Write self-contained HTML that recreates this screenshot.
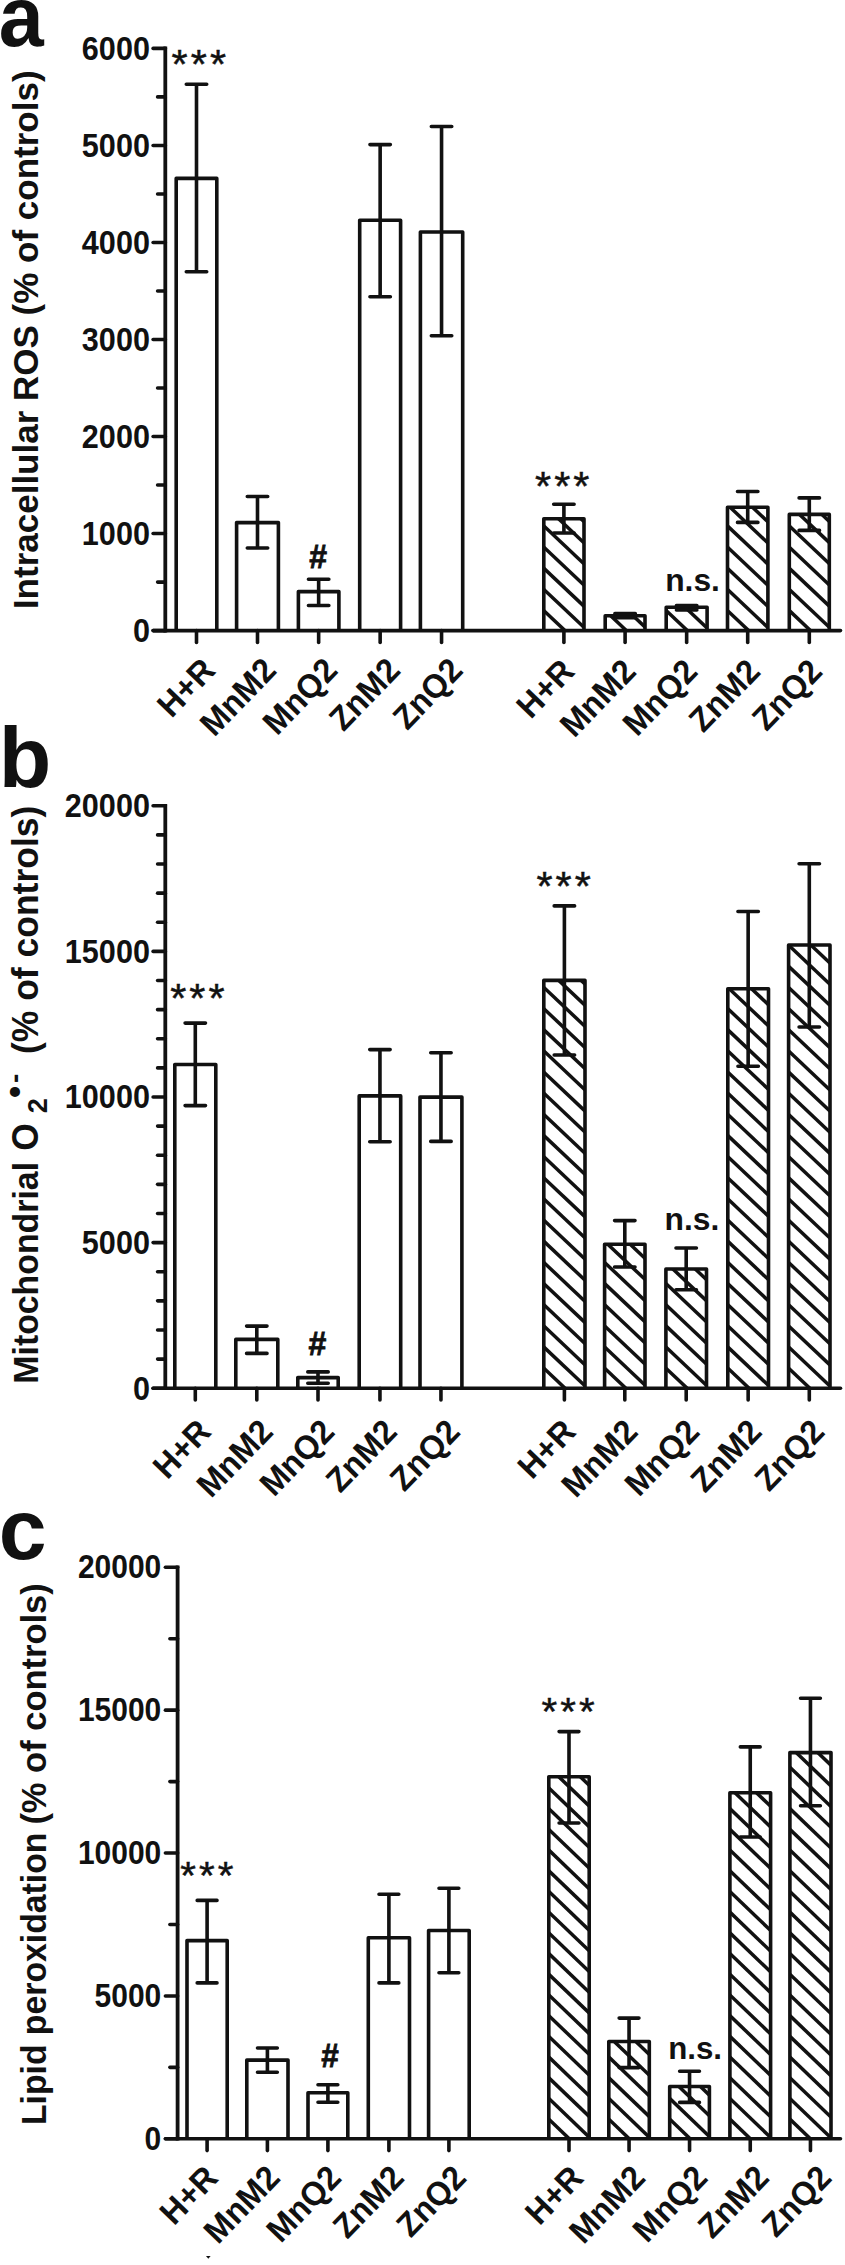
<!DOCTYPE html>
<html lang="en">
<head>
<meta charset="utf-8">
<title>Figure</title>
<style>
html,body{margin:0;padding:0;background:#fff;}
body{width:845px;height:2265px;overflow:hidden;}
svg{display:block;}
</style>
</head>
<body>
<svg width="845" height="2265" viewBox="0 0 845 2265" font-family='"Liberation Sans", Arial, Helvetica, sans-serif' fill="#111">
<rect width="845" height="2265" fill="#fff"/>
<g>
<clipPath id="c1"><rect x="543.80" y="518.80" width="40.20" height="111.80"/></clipPath>
<g clip-path="url(#c1)" stroke="#111" stroke-width="3.50">
<line x1="540.80" y1="671.18" x2="587.00" y2="714.84"/>
<line x1="540.80" y1="650.03" x2="587.00" y2="693.69"/>
<line x1="540.80" y1="628.88" x2="587.00" y2="672.54"/>
<line x1="540.80" y1="607.73" x2="587.00" y2="651.39"/>
<line x1="540.80" y1="586.58" x2="587.00" y2="630.24"/>
<line x1="540.80" y1="565.43" x2="587.00" y2="609.09"/>
<line x1="540.80" y1="544.28" x2="587.00" y2="587.94"/>
<line x1="540.80" y1="523.13" x2="587.00" y2="566.79"/>
<line x1="540.80" y1="501.98" x2="587.00" y2="545.64"/>
<line x1="540.80" y1="480.83" x2="587.00" y2="524.49"/>
</g>
<clipPath id="c2"><rect x="605.20" y="615.70" width="39.80" height="14.90"/></clipPath>
<g clip-path="url(#c2)" stroke="#111" stroke-width="3.50">
<line x1="602.20" y1="671.18" x2="648.00" y2="714.46"/>
<line x1="602.20" y1="650.03" x2="648.00" y2="693.31"/>
<line x1="602.20" y1="628.88" x2="648.00" y2="672.16"/>
<line x1="602.20" y1="607.73" x2="648.00" y2="651.01"/>
<line x1="602.20" y1="586.58" x2="648.00" y2="629.86"/>
</g>
<clipPath id="c3"><rect x="666.20" y="607.20" width="40.90" height="23.40"/></clipPath>
<g clip-path="url(#c3)" stroke="#111" stroke-width="3.50">
<line x1="663.20" y1="671.18" x2="710.10" y2="715.50"/>
<line x1="663.20" y1="650.03" x2="710.10" y2="694.35"/>
<line x1="663.20" y1="628.88" x2="710.10" y2="673.20"/>
<line x1="663.20" y1="607.73" x2="710.10" y2="652.05"/>
<line x1="663.20" y1="586.58" x2="710.10" y2="630.90"/>
<line x1="663.20" y1="565.43" x2="710.10" y2="609.75"/>
</g>
<clipPath id="c4"><rect x="727.50" y="507.20" width="40.40" height="123.40"/></clipPath>
<g clip-path="url(#c4)" stroke="#111" stroke-width="3.50">
<line x1="724.50" y1="671.18" x2="770.90" y2="715.03"/>
<line x1="724.50" y1="650.03" x2="770.90" y2="693.88"/>
<line x1="724.50" y1="628.88" x2="770.90" y2="672.73"/>
<line x1="724.50" y1="607.73" x2="770.90" y2="651.58"/>
<line x1="724.50" y1="586.58" x2="770.90" y2="630.43"/>
<line x1="724.50" y1="565.43" x2="770.90" y2="609.28"/>
<line x1="724.50" y1="544.28" x2="770.90" y2="588.13"/>
<line x1="724.50" y1="523.13" x2="770.90" y2="566.98"/>
<line x1="724.50" y1="501.98" x2="770.90" y2="545.83"/>
<line x1="724.50" y1="480.83" x2="770.90" y2="524.68"/>
<line x1="724.50" y1="459.68" x2="770.90" y2="503.53"/>
</g>
<clipPath id="c5"><rect x="789.30" y="514.40" width="40.00" height="116.20"/></clipPath>
<g clip-path="url(#c5)" stroke="#111" stroke-width="3.50">
<line x1="786.30" y1="671.18" x2="832.30" y2="714.65"/>
<line x1="786.30" y1="650.03" x2="832.30" y2="693.50"/>
<line x1="786.30" y1="628.88" x2="832.30" y2="672.35"/>
<line x1="786.30" y1="607.73" x2="832.30" y2="651.20"/>
<line x1="786.30" y1="586.58" x2="832.30" y2="630.05"/>
<line x1="786.30" y1="565.43" x2="832.30" y2="608.90"/>
<line x1="786.30" y1="544.28" x2="832.30" y2="587.75"/>
<line x1="786.30" y1="523.13" x2="832.30" y2="566.60"/>
<line x1="786.30" y1="501.98" x2="832.30" y2="545.45"/>
<line x1="786.30" y1="480.83" x2="832.30" y2="524.30"/>
</g>
<path d="M176.20 630.60V178.40H216.80V630.60" fill="none" stroke="#111" stroke-width="3.60" stroke-linejoin="round"/>
<path d="M236.60 630.60V522.60H278.40V630.60" fill="none" stroke="#111" stroke-width="3.60" stroke-linejoin="round"/>
<path d="M298.40 630.60V591.60H338.90V630.60" fill="none" stroke="#111" stroke-width="3.60" stroke-linejoin="round"/>
<path d="M359.70 630.60V220.30H400.60V630.60" fill="none" stroke="#111" stroke-width="3.60" stroke-linejoin="round"/>
<path d="M420.40 630.60V232.00H462.70V630.60" fill="none" stroke="#111" stroke-width="3.60" stroke-linejoin="round"/>
<path d="M543.80 630.60V518.80H584.00V630.60" fill="none" stroke="#111" stroke-width="3.60" stroke-linejoin="round"/>
<path d="M605.20 630.60V615.70H645.00V630.60" fill="none" stroke="#111" stroke-width="3.60" stroke-linejoin="round"/>
<path d="M666.20 630.60V607.20H707.10V630.60" fill="none" stroke="#111" stroke-width="3.60" stroke-linejoin="round"/>
<path d="M727.50 630.60V507.20H767.90V630.60" fill="none" stroke="#111" stroke-width="3.60" stroke-linejoin="round"/>
<path d="M789.30 630.60V514.40H829.30V630.60" fill="none" stroke="#111" stroke-width="3.60" stroke-linejoin="round"/>
<path d="M196.50 84.30V271.80M186.30 84.30H206.70M186.30 271.80H206.70" fill="none" stroke="#111" stroke-width="3.60" stroke-linecap="round"/>
<path d="M257.50 496.50V548.00M247.30 496.50H267.70M247.30 548.00H267.70" fill="none" stroke="#111" stroke-width="3.60" stroke-linecap="round"/>
<path d="M318.65 579.20V605.50M308.45 579.20H328.85M308.45 605.50H328.85" fill="none" stroke="#111" stroke-width="3.60" stroke-linecap="round"/>
<path d="M380.15 144.60V296.70M369.95 144.60H390.35M369.95 296.70H390.35" fill="none" stroke="#111" stroke-width="3.60" stroke-linecap="round"/>
<path d="M441.55 126.50V335.80M431.35 126.50H451.75M431.35 335.80H451.75" fill="none" stroke="#111" stroke-width="3.60" stroke-linecap="round"/>
<path d="M563.90 504.30V533.00M553.70 504.30H574.10M553.70 533.00H574.10" fill="none" stroke="#111" stroke-width="3.60" stroke-linecap="round"/>
<path d="M625.10 613.60V617.60M614.90 613.60H635.30M614.90 617.60H635.30" fill="none" stroke="#111" stroke-width="3.60" stroke-linecap="round"/>
<path d="M686.65 605.50V610.00M676.45 605.50H696.85M676.45 610.00H696.85" fill="none" stroke="#111" stroke-width="3.60" stroke-linecap="round"/>
<path d="M747.70 491.50V522.40M737.50 491.50H757.90M737.50 522.40H757.90" fill="none" stroke="#111" stroke-width="3.60" stroke-linecap="round"/>
<path d="M809.30 497.90V530.40M799.10 497.90H819.50M799.10 530.40H819.50" fill="none" stroke="#111" stroke-width="3.60" stroke-linecap="round"/>
<path d="M165.30 46.60V632.40" stroke="#111" stroke-width="3.80" fill="none"/>
<path d="M153.10 630.60H840.50" stroke="#111" stroke-width="3.60" fill="none" stroke-linecap="round"/>
<path d="M153.10 630.60H165.30" stroke="#111" stroke-width="3.60" stroke-linecap="round"/>
<path d="M153.10 533.57H165.30" stroke="#111" stroke-width="3.60" stroke-linecap="round"/>
<path d="M153.10 436.53H165.30" stroke="#111" stroke-width="3.60" stroke-linecap="round"/>
<path d="M153.10 339.50H165.30" stroke="#111" stroke-width="3.60" stroke-linecap="round"/>
<path d="M153.10 242.47H165.30" stroke="#111" stroke-width="3.60" stroke-linecap="round"/>
<path d="M153.10 145.43H165.30" stroke="#111" stroke-width="3.60" stroke-linecap="round"/>
<path d="M153.10 48.40H165.30" stroke="#111" stroke-width="3.60" stroke-linecap="round"/>
<path d="M157.60 582.08H165.30" stroke="#111" stroke-width="3.60" stroke-linecap="round"/>
<path d="M157.60 485.05H165.30" stroke="#111" stroke-width="3.60" stroke-linecap="round"/>
<path d="M157.60 388.02H165.30" stroke="#111" stroke-width="3.60" stroke-linecap="round"/>
<path d="M157.60 290.98H165.30" stroke="#111" stroke-width="3.60" stroke-linecap="round"/>
<path d="M157.60 193.95H165.30" stroke="#111" stroke-width="3.60" stroke-linecap="round"/>
<path d="M157.60 96.92H165.30" stroke="#111" stroke-width="3.60" stroke-linecap="round"/>
<text transform="translate(149.90 642.01) scale(1 1.080)" font-size="30.6" font-weight="bold" text-anchor="end">0</text>
<text transform="translate(149.90 544.97) scale(1 1.080)" font-size="30.6" font-weight="bold" text-anchor="end">1000</text>
<text transform="translate(149.90 447.94) scale(1 1.080)" font-size="30.6" font-weight="bold" text-anchor="end">2000</text>
<text transform="translate(149.90 350.91) scale(1 1.080)" font-size="30.6" font-weight="bold" text-anchor="end">3000</text>
<text transform="translate(149.90 253.87) scale(1 1.080)" font-size="30.6" font-weight="bold" text-anchor="end">4000</text>
<text transform="translate(149.90 156.84) scale(1 1.080)" font-size="30.6" font-weight="bold" text-anchor="end">5000</text>
<text transform="translate(149.90 59.81) scale(1 1.080)" font-size="30.6" font-weight="bold" text-anchor="end">6000</text>
<path d="M196.50 630.60V642.40" stroke="#111" stroke-width="3.60" stroke-linecap="round"/>
<path d="M257.50 630.60V642.40" stroke="#111" stroke-width="3.60" stroke-linecap="round"/>
<path d="M318.65 630.60V642.40" stroke="#111" stroke-width="3.60" stroke-linecap="round"/>
<path d="M380.15 630.60V642.40" stroke="#111" stroke-width="3.60" stroke-linecap="round"/>
<path d="M441.55 630.60V642.40" stroke="#111" stroke-width="3.60" stroke-linecap="round"/>
<path d="M563.90 630.60V642.40" stroke="#111" stroke-width="3.60" stroke-linecap="round"/>
<path d="M625.10 630.60V642.40" stroke="#111" stroke-width="3.60" stroke-linecap="round"/>
<path d="M686.65 630.60V642.40" stroke="#111" stroke-width="3.60" stroke-linecap="round"/>
<path d="M747.70 630.60V642.40" stroke="#111" stroke-width="3.60" stroke-linecap="round"/>
<path d="M809.30 630.60V642.40" stroke="#111" stroke-width="3.60" stroke-linecap="round"/>
<text transform="translate(216.90 671.90) rotate(-46.0) scale(1 1.040)" font-size="32.3" font-weight="bold" text-anchor="end">H+R</text>
<text transform="translate(277.90 671.90) rotate(-46.0) scale(1 1.040)" font-size="32.3" font-weight="bold" text-anchor="end">MnM2</text>
<text transform="translate(339.25 671.90) rotate(-46.0) scale(1 1.040)" font-size="32.3" font-weight="bold" text-anchor="end">MnQ2</text>
<text transform="translate(401.95 671.90) rotate(-46.0) scale(1 1.040)" font-size="32.3" font-weight="bold" text-anchor="end">ZnM2</text>
<text transform="translate(464.45 671.90) rotate(-46.0) scale(1 1.040)" font-size="32.3" font-weight="bold" text-anchor="end">ZnQ2</text>
<text transform="translate(576.20 673.00) rotate(-46.0) scale(1 1.040)" font-size="32.3" font-weight="bold" text-anchor="end">H+R</text>
<text transform="translate(637.70 673.00) rotate(-46.0) scale(1 1.040)" font-size="32.3" font-weight="bold" text-anchor="end">MnM2</text>
<text transform="translate(699.25 673.00) rotate(-46.0) scale(1 1.040)" font-size="32.3" font-weight="bold" text-anchor="end">MnQ2</text>
<text transform="translate(761.90 673.00) rotate(-46.0) scale(1 1.040)" font-size="32.3" font-weight="bold" text-anchor="end">ZnM2</text>
<text transform="translate(823.90 673.00) rotate(-46.0) scale(1 1.040)" font-size="32.3" font-weight="bold" text-anchor="end">ZnQ2</text>
<text transform="translate(171.59 77.81) scale(1 0.970)" font-size="41.3" letter-spacing="3.10" stroke="#111" stroke-width="0.5">***</text>
<text transform="translate(318.20 567.50) scale(1 1.040)" font-size="32.0" font-weight="bold" text-anchor="middle" stroke="#111" stroke-width="0.8">#</text>
<text transform="translate(534.99 499.71) scale(1 0.970)" font-size="41.3" letter-spacing="3.10" stroke="#111" stroke-width="0.5">***</text>
<text transform="translate(665.20 591.00) scale(1 0.980)" font-size="31.8" font-weight="bold">n.s.</text>
</g>
<g>
<clipPath id="c6"><rect x="543.80" y="980.40" width="41.20" height="407.80"/></clipPath>
<g clip-path="url(#c6)" stroke="#111" stroke-width="3.50">
<line x1="540.80" y1="1428.78" x2="588.00" y2="1473.38"/>
<line x1="540.80" y1="1407.63" x2="588.00" y2="1452.23"/>
<line x1="540.80" y1="1386.48" x2="588.00" y2="1431.08"/>
<line x1="540.80" y1="1365.33" x2="588.00" y2="1409.93"/>
<line x1="540.80" y1="1344.18" x2="588.00" y2="1388.78"/>
<line x1="540.80" y1="1323.03" x2="588.00" y2="1367.63"/>
<line x1="540.80" y1="1301.88" x2="588.00" y2="1346.48"/>
<line x1="540.80" y1="1280.73" x2="588.00" y2="1325.33"/>
<line x1="540.80" y1="1259.58" x2="588.00" y2="1304.18"/>
<line x1="540.80" y1="1238.43" x2="588.00" y2="1283.03"/>
<line x1="540.80" y1="1217.28" x2="588.00" y2="1261.88"/>
<line x1="540.80" y1="1196.13" x2="588.00" y2="1240.73"/>
<line x1="540.80" y1="1174.98" x2="588.00" y2="1219.58"/>
<line x1="540.80" y1="1153.83" x2="588.00" y2="1198.43"/>
<line x1="540.80" y1="1132.68" x2="588.00" y2="1177.28"/>
<line x1="540.80" y1="1111.53" x2="588.00" y2="1156.13"/>
<line x1="540.80" y1="1090.38" x2="588.00" y2="1134.98"/>
<line x1="540.80" y1="1069.23" x2="588.00" y2="1113.83"/>
<line x1="540.80" y1="1048.08" x2="588.00" y2="1092.68"/>
<line x1="540.80" y1="1026.93" x2="588.00" y2="1071.53"/>
<line x1="540.80" y1="1005.78" x2="588.00" y2="1050.38"/>
<line x1="540.80" y1="984.63" x2="588.00" y2="1029.23"/>
<line x1="540.80" y1="963.48" x2="588.00" y2="1008.08"/>
<line x1="540.80" y1="942.33" x2="588.00" y2="986.93"/>
</g>
<clipPath id="c7"><rect x="604.60" y="1244.30" width="40.40" height="143.90"/></clipPath>
<g clip-path="url(#c7)" stroke="#111" stroke-width="3.50">
<line x1="601.60" y1="1428.78" x2="648.00" y2="1472.63"/>
<line x1="601.60" y1="1407.63" x2="648.00" y2="1451.48"/>
<line x1="601.60" y1="1386.48" x2="648.00" y2="1430.33"/>
<line x1="601.60" y1="1365.33" x2="648.00" y2="1409.18"/>
<line x1="601.60" y1="1344.18" x2="648.00" y2="1388.03"/>
<line x1="601.60" y1="1323.03" x2="648.00" y2="1366.88"/>
<line x1="601.60" y1="1301.88" x2="648.00" y2="1345.73"/>
<line x1="601.60" y1="1280.73" x2="648.00" y2="1324.58"/>
<line x1="601.60" y1="1259.58" x2="648.00" y2="1303.43"/>
<line x1="601.60" y1="1238.43" x2="648.00" y2="1282.28"/>
<line x1="601.60" y1="1217.28" x2="648.00" y2="1261.13"/>
<line x1="601.60" y1="1196.13" x2="648.00" y2="1239.98"/>
</g>
<clipPath id="c8"><rect x="665.90" y="1269.00" width="40.60" height="119.20"/></clipPath>
<g clip-path="url(#c8)" stroke="#111" stroke-width="3.50">
<line x1="662.90" y1="1428.78" x2="709.50" y2="1472.82"/>
<line x1="662.90" y1="1407.63" x2="709.50" y2="1451.67"/>
<line x1="662.90" y1="1386.48" x2="709.50" y2="1430.52"/>
<line x1="662.90" y1="1365.33" x2="709.50" y2="1409.37"/>
<line x1="662.90" y1="1344.18" x2="709.50" y2="1388.22"/>
<line x1="662.90" y1="1323.03" x2="709.50" y2="1367.07"/>
<line x1="662.90" y1="1301.88" x2="709.50" y2="1345.92"/>
<line x1="662.90" y1="1280.73" x2="709.50" y2="1324.77"/>
<line x1="662.90" y1="1259.58" x2="709.50" y2="1303.62"/>
<line x1="662.90" y1="1238.43" x2="709.50" y2="1282.47"/>
</g>
<clipPath id="c9"><rect x="727.80" y="988.70" width="40.70" height="399.50"/></clipPath>
<g clip-path="url(#c9)" stroke="#111" stroke-width="3.50">
<line x1="724.80" y1="1428.78" x2="771.50" y2="1472.91"/>
<line x1="724.80" y1="1407.63" x2="771.50" y2="1451.76"/>
<line x1="724.80" y1="1386.48" x2="771.50" y2="1430.61"/>
<line x1="724.80" y1="1365.33" x2="771.50" y2="1409.46"/>
<line x1="724.80" y1="1344.18" x2="771.50" y2="1388.31"/>
<line x1="724.80" y1="1323.03" x2="771.50" y2="1367.16"/>
<line x1="724.80" y1="1301.88" x2="771.50" y2="1346.01"/>
<line x1="724.80" y1="1280.73" x2="771.50" y2="1324.86"/>
<line x1="724.80" y1="1259.58" x2="771.50" y2="1303.71"/>
<line x1="724.80" y1="1238.43" x2="771.50" y2="1282.56"/>
<line x1="724.80" y1="1217.28" x2="771.50" y2="1261.41"/>
<line x1="724.80" y1="1196.13" x2="771.50" y2="1240.26"/>
<line x1="724.80" y1="1174.98" x2="771.50" y2="1219.11"/>
<line x1="724.80" y1="1153.83" x2="771.50" y2="1197.96"/>
<line x1="724.80" y1="1132.68" x2="771.50" y2="1176.81"/>
<line x1="724.80" y1="1111.53" x2="771.50" y2="1155.66"/>
<line x1="724.80" y1="1090.38" x2="771.50" y2="1134.51"/>
<line x1="724.80" y1="1069.23" x2="771.50" y2="1113.36"/>
<line x1="724.80" y1="1048.08" x2="771.50" y2="1092.21"/>
<line x1="724.80" y1="1026.93" x2="771.50" y2="1071.06"/>
<line x1="724.80" y1="1005.78" x2="771.50" y2="1049.91"/>
<line x1="724.80" y1="984.63" x2="771.50" y2="1028.76"/>
<line x1="724.80" y1="963.48" x2="771.50" y2="1007.61"/>
<line x1="724.80" y1="942.33" x2="771.50" y2="986.46"/>
</g>
<clipPath id="c10"><rect x="788.60" y="945.00" width="41.40" height="443.20"/></clipPath>
<g clip-path="url(#c10)" stroke="#111" stroke-width="3.50">
<line x1="785.60" y1="1428.78" x2="833.00" y2="1473.57"/>
<line x1="785.60" y1="1407.63" x2="833.00" y2="1452.42"/>
<line x1="785.60" y1="1386.48" x2="833.00" y2="1431.27"/>
<line x1="785.60" y1="1365.33" x2="833.00" y2="1410.12"/>
<line x1="785.60" y1="1344.18" x2="833.00" y2="1388.97"/>
<line x1="785.60" y1="1323.03" x2="833.00" y2="1367.82"/>
<line x1="785.60" y1="1301.88" x2="833.00" y2="1346.67"/>
<line x1="785.60" y1="1280.73" x2="833.00" y2="1325.52"/>
<line x1="785.60" y1="1259.58" x2="833.00" y2="1304.37"/>
<line x1="785.60" y1="1238.43" x2="833.00" y2="1283.22"/>
<line x1="785.60" y1="1217.28" x2="833.00" y2="1262.07"/>
<line x1="785.60" y1="1196.13" x2="833.00" y2="1240.92"/>
<line x1="785.60" y1="1174.98" x2="833.00" y2="1219.77"/>
<line x1="785.60" y1="1153.83" x2="833.00" y2="1198.62"/>
<line x1="785.60" y1="1132.68" x2="833.00" y2="1177.47"/>
<line x1="785.60" y1="1111.53" x2="833.00" y2="1156.32"/>
<line x1="785.60" y1="1090.38" x2="833.00" y2="1135.17"/>
<line x1="785.60" y1="1069.23" x2="833.00" y2="1114.02"/>
<line x1="785.60" y1="1048.08" x2="833.00" y2="1092.87"/>
<line x1="785.60" y1="1026.93" x2="833.00" y2="1071.72"/>
<line x1="785.60" y1="1005.78" x2="833.00" y2="1050.57"/>
<line x1="785.60" y1="984.63" x2="833.00" y2="1029.42"/>
<line x1="785.60" y1="963.48" x2="833.00" y2="1008.27"/>
<line x1="785.60" y1="942.33" x2="833.00" y2="987.12"/>
<line x1="785.60" y1="921.18" x2="833.00" y2="965.97"/>
<line x1="785.60" y1="900.03" x2="833.00" y2="944.82"/>
</g>
<path d="M174.80 1388.20V1064.50H215.80V1388.20" fill="none" stroke="#111" stroke-width="3.60" stroke-linejoin="round"/>
<path d="M235.80 1388.20V1339.40H277.80V1388.20" fill="none" stroke="#111" stroke-width="3.60" stroke-linejoin="round"/>
<path d="M297.80 1388.20V1377.60H338.20V1388.20" fill="none" stroke="#111" stroke-width="3.60" stroke-linejoin="round"/>
<path d="M359.20 1388.20V1095.90H400.70V1388.20" fill="none" stroke="#111" stroke-width="3.60" stroke-linejoin="round"/>
<path d="M420.00 1388.20V1097.10H461.90V1388.20" fill="none" stroke="#111" stroke-width="3.60" stroke-linejoin="round"/>
<path d="M543.80 1388.20V980.40H585.00V1388.20" fill="none" stroke="#111" stroke-width="3.60" stroke-linejoin="round"/>
<path d="M604.60 1388.20V1244.30H645.00V1388.20" fill="none" stroke="#111" stroke-width="3.60" stroke-linejoin="round"/>
<path d="M665.90 1388.20V1269.00H706.50V1388.20" fill="none" stroke="#111" stroke-width="3.60" stroke-linejoin="round"/>
<path d="M727.80 1388.20V988.70H768.50V1388.20" fill="none" stroke="#111" stroke-width="3.60" stroke-linejoin="round"/>
<path d="M788.60 1388.20V945.00H830.00V1388.20" fill="none" stroke="#111" stroke-width="3.60" stroke-linejoin="round"/>
<path d="M195.30 1023.10V1105.60M185.10 1023.10H205.50M185.10 1105.60H205.50" fill="none" stroke="#111" stroke-width="3.60" stroke-linecap="round"/>
<path d="M256.80 1326.10V1353.40M246.60 1326.10H267.00M246.60 1353.40H267.00" fill="none" stroke="#111" stroke-width="3.60" stroke-linecap="round"/>
<path d="M318.00 1371.90V1383.30M307.80 1371.90H328.20M307.80 1383.30H328.20" fill="none" stroke="#111" stroke-width="3.60" stroke-linecap="round"/>
<path d="M379.95 1049.60V1141.80M369.75 1049.60H390.15M369.75 1141.80H390.15" fill="none" stroke="#111" stroke-width="3.60" stroke-linecap="round"/>
<path d="M440.95 1052.80V1141.40M430.75 1052.80H451.15M430.75 1141.40H451.15" fill="none" stroke="#111" stroke-width="3.60" stroke-linecap="round"/>
<path d="M564.40 905.90V1055.00M554.20 905.90H574.60M554.20 1055.00H574.60" fill="none" stroke="#111" stroke-width="3.60" stroke-linecap="round"/>
<path d="M624.80 1220.60V1267.00M614.60 1220.60H635.00M614.60 1267.00H635.00" fill="none" stroke="#111" stroke-width="3.60" stroke-linecap="round"/>
<path d="M686.20 1248.00V1289.70M676.00 1248.00H696.40M676.00 1289.70H696.40" fill="none" stroke="#111" stroke-width="3.60" stroke-linecap="round"/>
<path d="M748.15 911.50V1066.20M737.95 911.50H758.35M737.95 1066.20H758.35" fill="none" stroke="#111" stroke-width="3.60" stroke-linecap="round"/>
<path d="M809.30 863.80V1027.00M799.10 863.80H819.50M799.10 1027.00H819.50" fill="none" stroke="#111" stroke-width="3.60" stroke-linecap="round"/>
<path d="M165.30 804.00V1390.00" stroke="#111" stroke-width="3.80" fill="none"/>
<path d="M153.10 1388.20H840.50" stroke="#111" stroke-width="3.60" fill="none" stroke-linecap="round"/>
<path d="M153.10 1388.20H165.30" stroke="#111" stroke-width="3.60" stroke-linecap="round"/>
<path d="M153.10 1242.60H165.30" stroke="#111" stroke-width="3.60" stroke-linecap="round"/>
<path d="M153.10 1097.00H165.30" stroke="#111" stroke-width="3.60" stroke-linecap="round"/>
<path d="M153.10 951.40H165.30" stroke="#111" stroke-width="3.60" stroke-linecap="round"/>
<path d="M153.10 805.80H165.30" stroke="#111" stroke-width="3.60" stroke-linecap="round"/>
<path d="M157.60 1359.08H165.30" stroke="#111" stroke-width="3.60" stroke-linecap="round"/>
<path d="M157.60 1329.96H165.30" stroke="#111" stroke-width="3.60" stroke-linecap="round"/>
<path d="M157.60 1300.84H165.30" stroke="#111" stroke-width="3.60" stroke-linecap="round"/>
<path d="M157.60 1271.72H165.30" stroke="#111" stroke-width="3.60" stroke-linecap="round"/>
<path d="M157.60 1213.48H165.30" stroke="#111" stroke-width="3.60" stroke-linecap="round"/>
<path d="M157.60 1184.36H165.30" stroke="#111" stroke-width="3.60" stroke-linecap="round"/>
<path d="M157.60 1155.24H165.30" stroke="#111" stroke-width="3.60" stroke-linecap="round"/>
<path d="M157.60 1126.12H165.30" stroke="#111" stroke-width="3.60" stroke-linecap="round"/>
<path d="M157.60 1067.88H165.30" stroke="#111" stroke-width="3.60" stroke-linecap="round"/>
<path d="M157.60 1038.76H165.30" stroke="#111" stroke-width="3.60" stroke-linecap="round"/>
<path d="M157.60 1009.64H165.30" stroke="#111" stroke-width="3.60" stroke-linecap="round"/>
<path d="M157.60 980.52H165.30" stroke="#111" stroke-width="3.60" stroke-linecap="round"/>
<path d="M157.60 922.28H165.30" stroke="#111" stroke-width="3.60" stroke-linecap="round"/>
<path d="M157.60 893.16H165.30" stroke="#111" stroke-width="3.60" stroke-linecap="round"/>
<path d="M157.60 864.04H165.30" stroke="#111" stroke-width="3.60" stroke-linecap="round"/>
<path d="M157.60 834.92H165.30" stroke="#111" stroke-width="3.60" stroke-linecap="round"/>
<text transform="translate(149.90 1399.61) scale(1 1.080)" font-size="30.6" font-weight="bold" text-anchor="end">0</text>
<text transform="translate(149.90 1254.01) scale(1 1.080)" font-size="30.6" font-weight="bold" text-anchor="end">5000</text>
<text transform="translate(149.90 1108.41) scale(1 1.080)" font-size="30.6" font-weight="bold" text-anchor="end">10000</text>
<text transform="translate(149.90 962.81) scale(1 1.080)" font-size="30.6" font-weight="bold" text-anchor="end">15000</text>
<text transform="translate(149.90 817.21) scale(1 1.080)" font-size="30.6" font-weight="bold" text-anchor="end">20000</text>
<path d="M195.30 1388.20V1400.00" stroke="#111" stroke-width="3.60" stroke-linecap="round"/>
<path d="M256.80 1388.20V1400.00" stroke="#111" stroke-width="3.60" stroke-linecap="round"/>
<path d="M318.00 1388.20V1400.00" stroke="#111" stroke-width="3.60" stroke-linecap="round"/>
<path d="M379.95 1388.20V1400.00" stroke="#111" stroke-width="3.60" stroke-linecap="round"/>
<path d="M440.95 1388.20V1400.00" stroke="#111" stroke-width="3.60" stroke-linecap="round"/>
<path d="M564.40 1388.20V1400.00" stroke="#111" stroke-width="3.60" stroke-linecap="round"/>
<path d="M624.80 1388.20V1400.00" stroke="#111" stroke-width="3.60" stroke-linecap="round"/>
<path d="M686.20 1388.20V1400.00" stroke="#111" stroke-width="3.60" stroke-linecap="round"/>
<path d="M748.15 1388.20V1400.00" stroke="#111" stroke-width="3.60" stroke-linecap="round"/>
<path d="M809.30 1388.20V1400.00" stroke="#111" stroke-width="3.60" stroke-linecap="round"/>
<text transform="translate(212.70 1433.30) rotate(-46.0) scale(1 1.040)" font-size="32.3" font-weight="bold" text-anchor="end">H+R</text>
<text transform="translate(274.60 1433.30) rotate(-46.0) scale(1 1.040)" font-size="32.3" font-weight="bold" text-anchor="end">MnM2</text>
<text transform="translate(336.20 1433.30) rotate(-46.0) scale(1 1.040)" font-size="32.3" font-weight="bold" text-anchor="end">MnQ2</text>
<text transform="translate(398.85 1433.30) rotate(-46.0) scale(1 1.040)" font-size="32.3" font-weight="bold" text-anchor="end">ZnM2</text>
<text transform="translate(461.65 1433.30) rotate(-46.0) scale(1 1.040)" font-size="32.3" font-weight="bold" text-anchor="end">ZnQ2</text>
<text transform="translate(577.40 1433.30) rotate(-46.0) scale(1 1.040)" font-size="32.3" font-weight="bold" text-anchor="end">H+R</text>
<text transform="translate(639.40 1433.30) rotate(-46.0) scale(1 1.040)" font-size="32.3" font-weight="bold" text-anchor="end">MnM2</text>
<text transform="translate(701.20 1433.30) rotate(-46.0) scale(1 1.040)" font-size="32.3" font-weight="bold" text-anchor="end">MnQ2</text>
<text transform="translate(763.55 1433.30) rotate(-46.0) scale(1 1.040)" font-size="32.3" font-weight="bold" text-anchor="end">ZnM2</text>
<text transform="translate(826.30 1433.30) rotate(-46.0) scale(1 1.040)" font-size="32.3" font-weight="bold" text-anchor="end">ZnQ2</text>
<text transform="translate(170.19 1012.01) scale(1 0.970)" font-size="41.3" letter-spacing="3.10" stroke="#111" stroke-width="0.5">***</text>
<text transform="translate(317.40 1354.50) scale(1 1.040)" font-size="32.0" font-weight="bold" text-anchor="middle" stroke="#111" stroke-width="0.8">#</text>
<text transform="translate(536.39 899.71) scale(1 0.970)" font-size="41.3" letter-spacing="3.10" stroke="#111" stroke-width="0.5">***</text>
<text transform="translate(664.60 1230.30) scale(1 0.980)" font-size="31.8" font-weight="bold">n.s.</text>
</g>
<g>
<clipPath id="c11"><rect x="548.80" y="1776.70" width="40.40" height="362.10"/></clipPath>
<g clip-path="url(#c11)" stroke="#111" stroke-width="3.50">
<line x1="545.80" y1="2178.34" x2="592.20" y2="2222.88"/>
<line x1="545.80" y1="2157.64" x2="592.20" y2="2202.18"/>
<line x1="545.80" y1="2136.94" x2="592.20" y2="2181.48"/>
<line x1="545.80" y1="2116.24" x2="592.20" y2="2160.78"/>
<line x1="545.80" y1="2095.54" x2="592.20" y2="2140.08"/>
<line x1="545.80" y1="2074.84" x2="592.20" y2="2119.38"/>
<line x1="545.80" y1="2054.14" x2="592.20" y2="2098.68"/>
<line x1="545.80" y1="2033.44" x2="592.20" y2="2077.98"/>
<line x1="545.80" y1="2012.74" x2="592.20" y2="2057.28"/>
<line x1="545.80" y1="1992.04" x2="592.20" y2="2036.58"/>
<line x1="545.80" y1="1971.34" x2="592.20" y2="2015.88"/>
<line x1="545.80" y1="1950.64" x2="592.20" y2="1995.18"/>
<line x1="545.80" y1="1929.94" x2="592.20" y2="1974.48"/>
<line x1="545.80" y1="1909.24" x2="592.20" y2="1953.78"/>
<line x1="545.80" y1="1888.54" x2="592.20" y2="1933.08"/>
<line x1="545.80" y1="1867.84" x2="592.20" y2="1912.38"/>
<line x1="545.80" y1="1847.14" x2="592.20" y2="1891.68"/>
<line x1="545.80" y1="1826.44" x2="592.20" y2="1870.98"/>
<line x1="545.80" y1="1805.74" x2="592.20" y2="1850.28"/>
<line x1="545.80" y1="1785.04" x2="592.20" y2="1829.58"/>
<line x1="545.80" y1="1764.34" x2="592.20" y2="1808.88"/>
<line x1="545.80" y1="1743.64" x2="592.20" y2="1788.18"/>
</g>
<clipPath id="c12"><rect x="608.80" y="2041.50" width="40.50" height="97.30"/></clipPath>
<g clip-path="url(#c12)" stroke="#111" stroke-width="3.50">
<line x1="605.80" y1="2178.34" x2="652.30" y2="2222.98"/>
<line x1="605.80" y1="2157.64" x2="652.30" y2="2202.28"/>
<line x1="605.80" y1="2136.94" x2="652.30" y2="2181.58"/>
<line x1="605.80" y1="2116.24" x2="652.30" y2="2160.88"/>
<line x1="605.80" y1="2095.54" x2="652.30" y2="2140.18"/>
<line x1="605.80" y1="2074.84" x2="652.30" y2="2119.48"/>
<line x1="605.80" y1="2054.14" x2="652.30" y2="2098.78"/>
<line x1="605.80" y1="2033.44" x2="652.30" y2="2078.08"/>
<line x1="605.80" y1="2012.74" x2="652.30" y2="2057.38"/>
<line x1="605.80" y1="1992.04" x2="652.30" y2="2036.68"/>
</g>
<clipPath id="c13"><rect x="669.70" y="2086.50" width="39.70" height="52.30"/></clipPath>
<g clip-path="url(#c13)" stroke="#111" stroke-width="3.50">
<line x1="666.70" y1="2178.34" x2="712.40" y2="2222.21"/>
<line x1="666.70" y1="2157.64" x2="712.40" y2="2201.51"/>
<line x1="666.70" y1="2136.94" x2="712.40" y2="2180.81"/>
<line x1="666.70" y1="2116.24" x2="712.40" y2="2160.11"/>
<line x1="666.70" y1="2095.54" x2="712.40" y2="2139.41"/>
<line x1="666.70" y1="2074.84" x2="712.40" y2="2118.71"/>
<line x1="666.70" y1="2054.14" x2="712.40" y2="2098.01"/>
</g>
<clipPath id="c14"><rect x="729.90" y="1792.80" width="40.70" height="346.00"/></clipPath>
<g clip-path="url(#c14)" stroke="#111" stroke-width="3.50">
<line x1="726.90" y1="2178.34" x2="773.60" y2="2223.17"/>
<line x1="726.90" y1="2157.64" x2="773.60" y2="2202.47"/>
<line x1="726.90" y1="2136.94" x2="773.60" y2="2181.77"/>
<line x1="726.90" y1="2116.24" x2="773.60" y2="2161.07"/>
<line x1="726.90" y1="2095.54" x2="773.60" y2="2140.37"/>
<line x1="726.90" y1="2074.84" x2="773.60" y2="2119.67"/>
<line x1="726.90" y1="2054.14" x2="773.60" y2="2098.97"/>
<line x1="726.90" y1="2033.44" x2="773.60" y2="2078.27"/>
<line x1="726.90" y1="2012.74" x2="773.60" y2="2057.57"/>
<line x1="726.90" y1="1992.04" x2="773.60" y2="2036.87"/>
<line x1="726.90" y1="1971.34" x2="773.60" y2="2016.17"/>
<line x1="726.90" y1="1950.64" x2="773.60" y2="1995.47"/>
<line x1="726.90" y1="1929.94" x2="773.60" y2="1974.77"/>
<line x1="726.90" y1="1909.24" x2="773.60" y2="1954.07"/>
<line x1="726.90" y1="1888.54" x2="773.60" y2="1933.37"/>
<line x1="726.90" y1="1867.84" x2="773.60" y2="1912.67"/>
<line x1="726.90" y1="1847.14" x2="773.60" y2="1891.97"/>
<line x1="726.90" y1="1826.44" x2="773.60" y2="1871.27"/>
<line x1="726.90" y1="1805.74" x2="773.60" y2="1850.57"/>
<line x1="726.90" y1="1785.04" x2="773.60" y2="1829.87"/>
<line x1="726.90" y1="1764.34" x2="773.60" y2="1809.17"/>
<line x1="726.90" y1="1743.64" x2="773.60" y2="1788.47"/>
</g>
<clipPath id="c15"><rect x="789.90" y="1752.60" width="41.10" height="386.20"/></clipPath>
<g clip-path="url(#c15)" stroke="#111" stroke-width="3.50">
<line x1="786.90" y1="2178.34" x2="834.00" y2="2223.56"/>
<line x1="786.90" y1="2157.64" x2="834.00" y2="2202.86"/>
<line x1="786.90" y1="2136.94" x2="834.00" y2="2182.16"/>
<line x1="786.90" y1="2116.24" x2="834.00" y2="2161.46"/>
<line x1="786.90" y1="2095.54" x2="834.00" y2="2140.76"/>
<line x1="786.90" y1="2074.84" x2="834.00" y2="2120.06"/>
<line x1="786.90" y1="2054.14" x2="834.00" y2="2099.36"/>
<line x1="786.90" y1="2033.44" x2="834.00" y2="2078.66"/>
<line x1="786.90" y1="2012.74" x2="834.00" y2="2057.96"/>
<line x1="786.90" y1="1992.04" x2="834.00" y2="2037.26"/>
<line x1="786.90" y1="1971.34" x2="834.00" y2="2016.56"/>
<line x1="786.90" y1="1950.64" x2="834.00" y2="1995.86"/>
<line x1="786.90" y1="1929.94" x2="834.00" y2="1975.16"/>
<line x1="786.90" y1="1909.24" x2="834.00" y2="1954.46"/>
<line x1="786.90" y1="1888.54" x2="834.00" y2="1933.76"/>
<line x1="786.90" y1="1867.84" x2="834.00" y2="1913.06"/>
<line x1="786.90" y1="1847.14" x2="834.00" y2="1892.36"/>
<line x1="786.90" y1="1826.44" x2="834.00" y2="1871.66"/>
<line x1="786.90" y1="1805.74" x2="834.00" y2="1850.96"/>
<line x1="786.90" y1="1785.04" x2="834.00" y2="1830.26"/>
<line x1="786.90" y1="1764.34" x2="834.00" y2="1809.56"/>
<line x1="786.90" y1="1743.64" x2="834.00" y2="1788.86"/>
<line x1="786.90" y1="1722.94" x2="834.00" y2="1768.16"/>
</g>
<path d="M187.00 2138.80V1940.60H227.20V2138.80" fill="none" stroke="#111" stroke-width="3.60" stroke-linejoin="round"/>
<path d="M246.80 2138.80V2060.10H288.00V2138.80" fill="none" stroke="#111" stroke-width="3.60" stroke-linejoin="round"/>
<path d="M308.00 2138.80V2092.80H347.80V2138.80" fill="none" stroke="#111" stroke-width="3.60" stroke-linejoin="round"/>
<path d="M368.30 2138.80V1937.80H409.50V2138.80" fill="none" stroke="#111" stroke-width="3.60" stroke-linejoin="round"/>
<path d="M428.60 2138.80V1930.50H469.20V2138.80" fill="none" stroke="#111" stroke-width="3.60" stroke-linejoin="round"/>
<path d="M548.80 2138.80V1776.70H589.20V2138.80" fill="none" stroke="#111" stroke-width="3.60" stroke-linejoin="round"/>
<path d="M608.80 2138.80V2041.50H649.30V2138.80" fill="none" stroke="#111" stroke-width="3.60" stroke-linejoin="round"/>
<path d="M669.70 2138.80V2086.50H709.40V2138.80" fill="none" stroke="#111" stroke-width="3.60" stroke-linejoin="round"/>
<path d="M729.90 2138.80V1792.80H770.60V2138.80" fill="none" stroke="#111" stroke-width="3.60" stroke-linejoin="round"/>
<path d="M789.90 2138.80V1752.60H831.00V2138.80" fill="none" stroke="#111" stroke-width="3.60" stroke-linejoin="round"/>
<path d="M207.10 1900.40V1982.90M197.20 1900.40H217.00M197.20 1982.90H217.00" fill="none" stroke="#111" stroke-width="3.60" stroke-linecap="round"/>
<path d="M267.40 2048.00V2072.20M257.50 2048.00H277.30M257.50 2072.20H277.30" fill="none" stroke="#111" stroke-width="3.60" stroke-linecap="round"/>
<path d="M327.90 2084.70V2102.20M318.00 2084.70H337.80M318.00 2102.20H337.80" fill="none" stroke="#111" stroke-width="3.60" stroke-linecap="round"/>
<path d="M388.90 1894.30V1982.90M379.00 1894.30H398.80M379.00 1982.90H398.80" fill="none" stroke="#111" stroke-width="3.60" stroke-linecap="round"/>
<path d="M448.90 1888.30V1972.80M439.00 1888.30H458.80M439.00 1972.80H458.80" fill="none" stroke="#111" stroke-width="3.60" stroke-linecap="round"/>
<path d="M569.00 1731.60V1823.00M559.10 1731.60H578.90M559.10 1823.00H578.90" fill="none" stroke="#111" stroke-width="3.60" stroke-linecap="round"/>
<path d="M629.05 2018.10V2067.60M619.15 2018.10H638.95M619.15 2067.60H638.95" fill="none" stroke="#111" stroke-width="3.60" stroke-linecap="round"/>
<path d="M689.55 2071.20V2102.40M679.65 2071.20H699.45M679.65 2102.40H699.45" fill="none" stroke="#111" stroke-width="3.60" stroke-linecap="round"/>
<path d="M750.25 1746.90V1837.00M740.35 1746.90H760.15M740.35 1837.00H760.15" fill="none" stroke="#111" stroke-width="3.60" stroke-linecap="round"/>
<path d="M810.45 1698.20V1805.70M800.55 1698.20H820.35M800.55 1805.70H820.35" fill="none" stroke="#111" stroke-width="3.60" stroke-linecap="round"/>
<path d="M177.60 1565.50V2140.60" stroke="#111" stroke-width="3.80" fill="none"/>
<path d="M165.40 2138.80H840.50" stroke="#111" stroke-width="3.60" fill="none" stroke-linecap="round"/>
<path d="M165.40 2138.80H177.60" stroke="#111" stroke-width="3.60" stroke-linecap="round"/>
<path d="M165.40 1995.93H177.60" stroke="#111" stroke-width="3.60" stroke-linecap="round"/>
<path d="M165.40 1853.05H177.60" stroke="#111" stroke-width="3.60" stroke-linecap="round"/>
<path d="M165.40 1710.17H177.60" stroke="#111" stroke-width="3.60" stroke-linecap="round"/>
<path d="M165.40 1567.30H177.60" stroke="#111" stroke-width="3.60" stroke-linecap="round"/>
<path d="M169.90 2067.36H177.60" stroke="#111" stroke-width="3.60" stroke-linecap="round"/>
<path d="M169.90 1924.49H177.60" stroke="#111" stroke-width="3.60" stroke-linecap="round"/>
<path d="M169.90 1781.61H177.60" stroke="#111" stroke-width="3.60" stroke-linecap="round"/>
<path d="M169.90 1638.74H177.60" stroke="#111" stroke-width="3.60" stroke-linecap="round"/>
<text transform="translate(161.30 2149.99) scale(1 1.080)" font-size="30.0" font-weight="bold" text-anchor="end">0</text>
<text transform="translate(161.30 2007.12) scale(1 1.080)" font-size="30.0" font-weight="bold" text-anchor="end">5000</text>
<text transform="translate(161.30 1864.24) scale(1 1.080)" font-size="30.0" font-weight="bold" text-anchor="end">10000</text>
<text transform="translate(161.30 1721.37) scale(1 1.080)" font-size="30.0" font-weight="bold" text-anchor="end">15000</text>
<text transform="translate(161.30 1578.49) scale(1 1.080)" font-size="30.0" font-weight="bold" text-anchor="end">20000</text>
<path d="M207.10 2138.80V2150.60" stroke="#111" stroke-width="3.60" stroke-linecap="round"/>
<path d="M267.40 2138.80V2150.60" stroke="#111" stroke-width="3.60" stroke-linecap="round"/>
<path d="M327.90 2138.80V2150.60" stroke="#111" stroke-width="3.60" stroke-linecap="round"/>
<path d="M388.90 2138.80V2150.60" stroke="#111" stroke-width="3.60" stroke-linecap="round"/>
<path d="M448.90 2138.80V2150.60" stroke="#111" stroke-width="3.60" stroke-linecap="round"/>
<path d="M569.00 2138.80V2150.60" stroke="#111" stroke-width="3.60" stroke-linecap="round"/>
<path d="M629.05 2138.80V2150.60" stroke="#111" stroke-width="3.60" stroke-linecap="round"/>
<path d="M689.55 2138.80V2150.60" stroke="#111" stroke-width="3.60" stroke-linecap="round"/>
<path d="M750.25 2138.80V2150.60" stroke="#111" stroke-width="3.60" stroke-linecap="round"/>
<path d="M810.45 2138.80V2150.60" stroke="#111" stroke-width="3.60" stroke-linecap="round"/>
<text transform="translate(219.60 2179.40) rotate(-46.0) scale(1 1.040)" font-size="32.3" font-weight="bold" text-anchor="end">H+R</text>
<text transform="translate(281.60 2179.40) rotate(-46.0) scale(1 1.040)" font-size="32.3" font-weight="bold" text-anchor="end">MnM2</text>
<text transform="translate(343.10 2179.40) rotate(-46.0) scale(1 1.040)" font-size="32.3" font-weight="bold" text-anchor="end">MnQ2</text>
<text transform="translate(405.80 2179.40) rotate(-46.0) scale(1 1.040)" font-size="32.3" font-weight="bold" text-anchor="end">ZnM2</text>
<text transform="translate(468.10 2179.40) rotate(-46.0) scale(1 1.040)" font-size="32.3" font-weight="bold" text-anchor="end">ZnQ2</text>
<text transform="translate(585.10 2179.40) rotate(-46.0) scale(1 1.040)" font-size="32.3" font-weight="bold" text-anchor="end">H+R</text>
<text transform="translate(646.95 2179.40) rotate(-46.0) scale(1 1.040)" font-size="32.3" font-weight="bold" text-anchor="end">MnM2</text>
<text transform="translate(709.25 2179.40) rotate(-46.0) scale(1 1.040)" font-size="32.3" font-weight="bold" text-anchor="end">MnQ2</text>
<text transform="translate(770.85 2179.40) rotate(-46.0) scale(1 1.040)" font-size="32.3" font-weight="bold" text-anchor="end">ZnM2</text>
<text transform="translate(833.35 2179.40) rotate(-46.0) scale(1 1.040)" font-size="32.3" font-weight="bold" text-anchor="end">ZnQ2</text>
<text transform="translate(180.21 1889.43) scale(1 0.970)" font-size="40.3" letter-spacing="3.05" stroke="#111" stroke-width="0.5">***</text>
<text transform="translate(330.00 2067.30) scale(1 1.040)" font-size="31.5" font-weight="bold" text-anchor="middle" stroke="#111" stroke-width="0.8">#</text>
<text transform="translate(541.61 1724.83) scale(1 0.970)" font-size="40.3" letter-spacing="3.05" stroke="#111" stroke-width="0.5">***</text>
<text transform="translate(668.13 2058.60) scale(1 0.980)" font-size="31.3" font-weight="bold">n.s.</text>
</g>
<text transform="translate(-1.2 46.4) scale(0.94 1)" font-size="86" font-weight="bold">a</text>
<text x="-1.3" y="786.8" font-size="86" font-weight="bold">b</text>
<text x="-1.3" y="1559.3" font-size="86" font-weight="bold">c</text>
<text transform="translate(38.20 609.10) rotate(-90) scale(1.000 1.025)" font-size="35.0" font-weight="bold">Intracellular ROS (% of controls)</text>
<text transform="translate(38.20 1383.70) rotate(-90) scale(0.967 1.025)" font-size="35.0" font-weight="bold">Mitochondrial</text>
<text transform="translate(38.20 1150.76) rotate(-90) scale(1.000 1.025)" font-size="35.5" font-weight="bold">O</text>
<text transform="translate(47.30 1113.24) rotate(-90) scale(1.000 1.025)" font-size="27.0" font-weight="bold">2</text>
<text transform="translate(27.30 1098.02) rotate(-90) scale(1.000 1.000)" font-size="35.0" font-weight="bold">•</text>
<text transform="translate(24.40 1083.09) rotate(-90) scale(1.000 1.000)" font-size="28.0" font-weight="bold">-</text>
<text transform="translate(38.20 1054.08) rotate(-90) scale(1.000 1.025)" font-size="35.5" font-weight="bold">(% of controls)</text>
<text transform="translate(45.70 2125.10) rotate(-90) scale(0.993 1.025)" font-size="34.0" font-weight="bold">Lipid peroxidation</text>
<text transform="translate(45.70 1824.62) rotate(-90) scale(1.000 1.025)" font-size="34.5" font-weight="bold">(% of controls)</text>
<path d="M206 2256.1H210.6L208.3 2258.7Z" fill="#111"/>
</svg>
</body>
</html>
